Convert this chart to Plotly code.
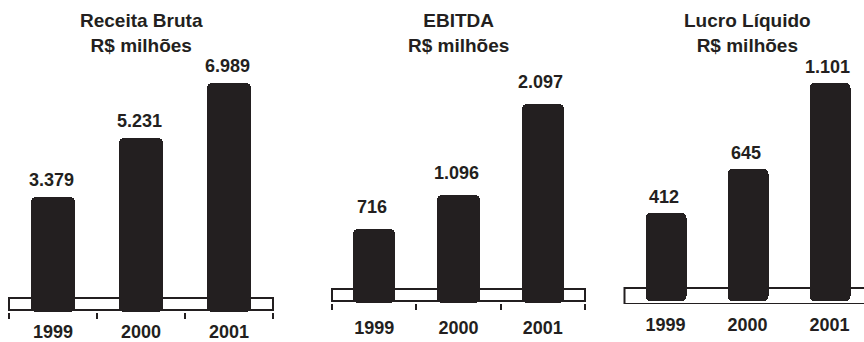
import plotly.graph_objects as go

# Data (R$ milhões)
years = ["1999", "2000", "2001"]
receita_bruta = [3379, 5231, 6989]
ebitda = [716, 1096, 2097]
lucro_liquido = [412, 645, 1101]
titles = ["Receita Bruta", "EBITDA", "Lucro Líquido"]
subtitle = "R$ milhões"

W, H = 864, 342
INK = "#231f20"
FONT = "Liberation Sans, Arial, sans-serif"

# Pixel layout of each panel: floor box edges, zero line, value scale
panels = [
    dict(left=9, right=273, zero=304, upp=31.6, bottom=312, rect_top=298, rect_bot=310, cap=312,
         ticklen=6, standoff=7, label_gap=5),
    dict(left=332, right=585, zero=293.8, upp=11.05, bottom=303, rect_top=289, rect_bot=301, cap=303,
         ticklen=6, standoff=12, label_gap=10),
    dict(left=624.5, right=870.5, zero=290.7, upp=5.30, bottom=304, rect_top=288, rect_bot=304, cap=301,
         ticklen=0, standoff=8, label_gap=4),
]
series = [receita_bruta, ebitda, lucro_liquido]


def fmt(v):
    return f"{v:,}".replace(",", ".")


fig = go.Figure()
shapes = []

for k, (p, vals, title) in enumerate(zip(panels, series, titles)):
    n = "" if k == 0 else str(k + 1)
    xa, ya = "x" + n, "y" + n
    pad = 2
    dl = p["left"] - pad
    dr = min(p["right"] + pad, W)
    u = 3.0 / (p["right"] - p["left"])
    xr = [-0.5 - pad * u, -0.5 + (dr - p["left"]) * u]
    yr = [-(p["bottom"] - p["zero"]) * p["upp"], p["zero"] * p["upp"]]

    # cylinder body with rounded top
    fig.add_trace(go.Bar(
        x=years, y=vals, width=0.5, marker=dict(color=INK, cornerradius=5, line=dict(width=0)),
        xaxis=xa, yaxis=ya, showlegend=False, hoverinfo="x+y",
    ))
    # rounded bottom cap below the zero line
    cap_depth = -(p["cap"] - p["zero"]) * p["upp"]
    fig.add_trace(go.Bar(
        x=years, y=[cap_depth] * len(vals), width=0.5,
        marker=dict(color=INK, cornerradius=5, line=dict(width=0)),
        xaxis=xa, yaxis=ya, showlegend=False, hoverinfo="skip",
    ))

    fig.layout["xaxis" + n] = dict(
        domain=[dl / W, dr / W], range=xr, type="category", automargin=False,
        tickson="boundaries", ticks="outside",
        ticklen=max(p["ticklen"], 1), tickwidth=2,
        tickcolor=INK if p["ticklen"] else "rgba(0,0,0,0)",
        ticklabelstandoff=p["standoff"],
        showline=False, showgrid=False, zeroline=False, fixedrange=True,
        tickfont=dict(family=FONT, size=18, color=INK, weight="bold"),
        anchor=ya,
    )
    fig.layout["yaxis" + n] = dict(
        domain=[1 - p["bottom"] / H, 1], range=yr, visible=False, automargin=False,
        showgrid=False, zeroline=False, fixedrange=True, anchor=xa,
    )

    # floor box behind the bars
    shapes.append(dict(
        type="rect", xref=xa, yref=ya, x0=-0.5, x1=2.5,
        y0=-(p["rect_bot"] - p["zero"]) * p["upp"], y1=(p["zero"] - p["rect_top"]) * p["upp"],
        line=dict(color=INK, width=2), fillcolor="white", layer="below",
    ))

fig.update_layout(
    width=W, height=H, margin=dict(l=0, r=0, t=0, b=0, autoexpand=False),
    paper_bgcolor="white", plot_bgcolor="rgba(0,0,0,0)",
    barmode="overlay", bargap=0, showlegend=False, shapes=shapes,
)

for k, (p, vals, title) in enumerate(zip(panels, series, titles)):
    n = "" if k == 0 else str(k + 1)
    xa, ya = "x" + n, "y" + n
    for i, v in enumerate(vals):
        fig.add_annotation(
            x=i, y=v, xref=xa, yref=ya, text=fmt(v), showarrow=False,
            yanchor="bottom", yshift=p["label_gap"], xshift=-2,
            font=dict(family=FONT, size=18, color=INK, weight="bold"),
        )
    fig.add_annotation(
        x=1, xref=xa, y=1 - 33 / H, yref="paper",
        text=f"{title}<br>{subtitle}", showarrow=False, yanchor="middle",
        font=dict(family=FONT, size=19, color=INK, weight="bold"),
    )

fig.write_html("out.html")
